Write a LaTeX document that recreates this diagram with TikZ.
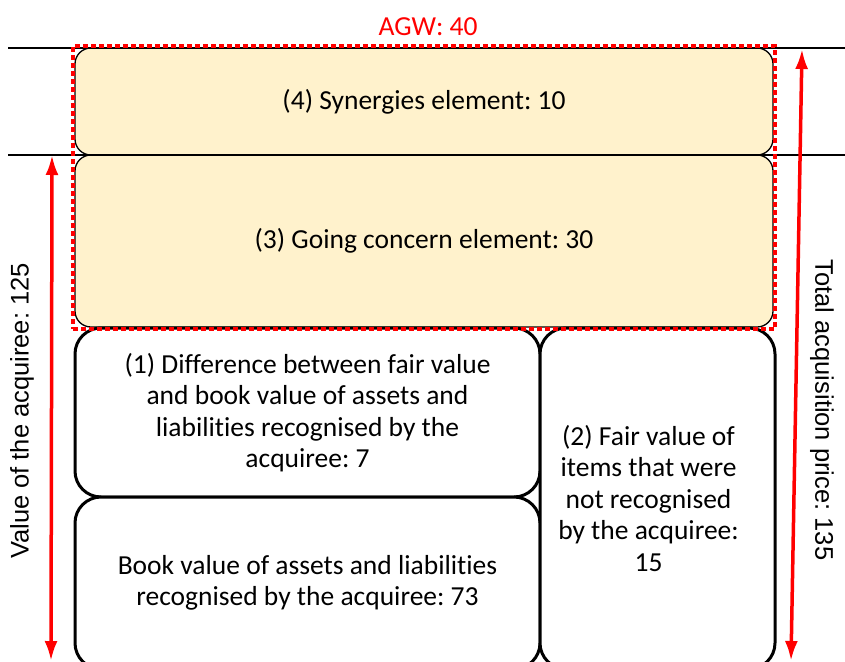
\documentclass[tikz,border=0pt]{standalone}
\usepackage{fontspec}
\setmainfont{Carlito}[Ligatures=NoCommon]
\newfontfamily\arialfont{Liberation Sans}
\usetikzlibrary{positioning, arrows.meta, fit}
\definecolor{agwfill}{HTML}{FFF2CC}
\frenchspacing

\begin{document}
\begin{tikzpicture}[x=1pt,y=-1pt]
		\tikzstyle{agwbox} = [draw=black, line width=1.3, fill=agwfill, rounded corners=16, anchor=north west, inner sep=0, outer sep=0, align=center, font=\fontsize{27.5}{31.5}\selectfont]
		\tikzstyle{bookbox} = [draw=black, line width=3, fill=white, rounded corners=26, anchor=north west, inner sep=0, outer sep=0, align=center, font=\fontsize{27.5}{31.5}\selectfont]
		\tikzstyle{frame} = [draw=red, line width=3.5, dash pattern=on 5 off 3, inner sep=2, outer sep=0]
		\tikzstyle{measure} = [{Latex[length=20,width=13]}-{Latex[length=20,width=13]}, line width=3.5, draw=red]
		\tikzstyle{sidelabel} = [font=\arialfont\fontsize{25.5}{30}\selectfont]
		\useasboundingbox (0,0) rectangle (845,661);
		\clip (0,0) rectangle (845,661);
		\node [agwbox, minimum width=698, minimum height=107] (syn) at (75,48) {(4) Synergies element: 10};
		\node [agwbox, minimum width=698, minimum height=172] (going) at (75,155) {(3) Going concern element: 30};
		\node [bookbox, minimum width=465, minimum height=169] (diff) at (75,328) {(1) Difference between fair value\\and book value of assets and\\liabilities recognised by the\\acquiree: 7};
		\node [bookbox, minimum width=465, minimum height=172] (book) at (75,497) {Book value of assets and liabilities\\recognised by the acquiree: 73};
		\node [bookbox, minimum width=235, minimum height=341] (fair) at (540,328) {};
		\node [align=center, font=\fontsize{27.5}{31.5}\selectfont, xshift=-9] (fairtext) at (fair.center) {(2) Fair value of\\items that were\\not recognised\\by the acquiree:\\15};
		
		\coordinate (topL) at (8,48);
		\coordinate (topR) at (845,48);
		\coordinate (midL) at (8,155);
		\coordinate (midR) at (845,155);
		\draw [line width=1.5] (topL) -- (topR);
		\draw [line width=1.5] (midL) -- (midR);
		
		\node [frame, fit=(syn)(going)] (agw) {};
		\node [text=red, font=\fontsize{27.5}{31}\selectfont] (agwlabel) at (428,27) {AGW: 40};
		
		\coordinate (valTop) at (52,155);
		\coordinate (valBot) at (51,661);
		\coordinate (priceTop) at (802,49);
		\coordinate (priceBot) at (791,661);
		\draw [measure] (valBot) -- (valTop);
		\draw [measure] (priceBot) -- (priceTop);
		\node [sidelabel, rotate=90] (value) at (22,411) {Value of the acquiree: 125};
		\node [sidelabel, rotate=-90] (price) at (822,410) {Total acquisition price: 135};
\end{tikzpicture}
\end{document}
